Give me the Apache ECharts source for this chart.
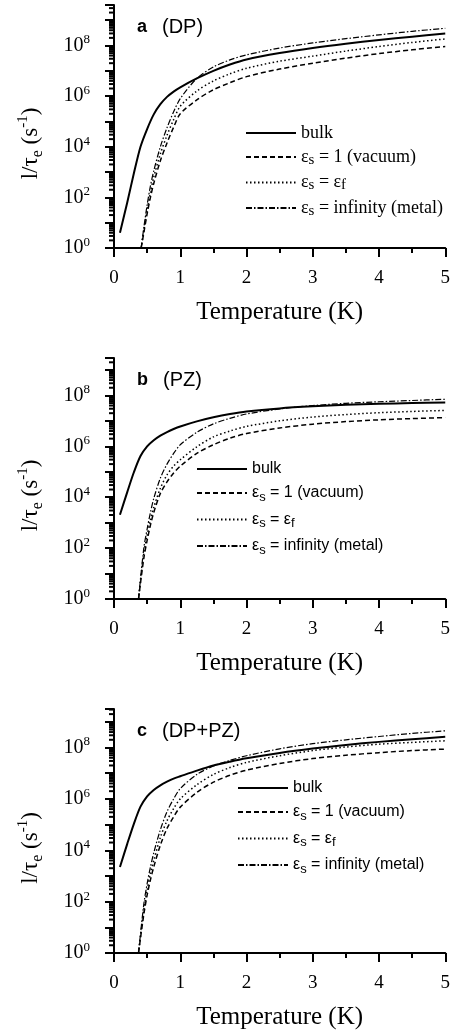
<!DOCTYPE html>
<html>
<head>
<meta charset="utf-8">
<script src="https://cdn.jsdelivr.net/npm/echarts@6/dist/echarts.min.js"></script>
<style>
  html, body { margin: 0; padding: 0; background: #fff; }
  #chart { width: 453px; height: 1032px; }
</style>
</head>
<body>
<div id="chart"></div>
<script>
// temperatures (K)
const tBulk = [0.09, 0.2, 0.3, 0.4, 0.5, 0.6, 0.7, 0.8, 0.9, 1, 1.25, 1.5, 1.75, 2, 2.5, 3, 3.5, 4, 4.5, 5];
const tFilmA = [0.41, 0.45, 0.5, 0.55, 0.6, 0.7, 0.8, 0.9, 1, 1.25, 1.5, 1.75, 2, 2.5, 3, 3.5, 4, 4.5, 5];
const tFilmBC = [0.37, 0.45, 0.5, 0.55, 0.6, 0.7, 0.8, 0.9, 1, 1.25, 1.5, 1.75, 2, 2.5, 3, 3.5, 4, 4.5, 5];

// log10(1/tau_e)
// a (DP)
const bulkA = [0.6, 1.8, 2.95, 4.0, 4.7, 5.28, 5.68, 5.97, 6.18, 6.35, 6.7, 7.0, 7.25, 7.45, 7.7, 7.9, 8.07, 8.22, 8.35, 8.47];
const vacA = [0, 0.6, 1.35, 2.0, 2.55, 3.45, 4.15, 4.77, 5.3, 5.85, 6.25, 6.53, 6.77, 7.07, 7.3, 7.5, 7.68, 7.83, 7.96];
const epsfA = [0, 0.7, 1.5, 2.2, 2.8, 3.72, 4.45, 5.07, 5.6, 6.2, 6.6, 6.88, 7.1, 7.38, 7.58, 7.78, 7.96, 8.12, 8.26];
const metalA = [0, 0.8, 1.7, 2.45, 3.05, 4.0, 4.75, 5.38, 5.9, 6.7, 7.15, 7.43, 7.63, 7.9, 8.1, 8.27, 8.42, 8.56, 8.68];
// b (PZ)
const bulkB = [3.31, 4.2, 4.98, 5.62, 6.0, 6.24, 6.42, 6.56, 6.68, 6.78, 6.98, 7.14, 7.27, 7.37, 7.49, 7.57, 7.63, 7.67, 7.7, 7.72];
const vacB = [0, 1.6, 2.3, 2.9, 3.4, 4.15, 4.6, 4.95, 5.22, 5.72, 6.06, 6.32, 6.5, 6.72, 6.87, 6.97, 7.04, 7.09, 7.13];
const epsfB = [0, 1.8, 2.5, 3.1, 3.6, 4.35, 4.88, 5.22, 5.47, 5.98, 6.37, 6.6, 6.78, 7.0, 7.15, 7.25, 7.32, 7.37, 7.41];
const metalB = [0, 2.0, 2.75, 3.4, 3.95, 4.75, 5.3, 5.72, 6.06, 6.55, 6.88, 7.1, 7.27, 7.47, 7.6, 7.69, 7.75, 7.8, 7.85];
// c (DP+PZ)
const bulkC = [3.35, 4.25, 5.03, 5.7, 6.1, 6.35, 6.53, 6.67, 6.79, 6.88, 7.1, 7.3, 7.45, 7.58, 7.79, 7.96, 8.1, 8.22, 8.32, 8.42];
const vacC = [0, 1.5, 2.25, 2.85, 3.35, 4.2, 4.85, 5.3, 5.68, 6.25, 6.65, 6.92, 7.12, 7.38, 7.57, 7.7, 7.8, 7.88, 7.94];
const epsfC = [0, 1.7, 2.45, 3.1, 3.6, 4.5, 5.15, 5.62, 6.0, 6.55, 6.95, 7.22, 7.42, 7.68, 7.88, 8.02, 8.13, 8.2, 8.26];
const metalC = [0, 1.9, 2.7, 3.35, 3.9, 4.8, 5.5, 6.0, 6.4, 6.95, 7.28, 7.5, 7.68, 7.95, 8.15, 8.3, 8.43, 8.55, 8.65];

const panelTags = ['a', 'b', 'c'];
const panelNames = ['(DP)', '(PZ)', '(DP+PZ)'];
const xTicks = [0, 1, 2, 3, 4, 5];

const serif = 'Liberation Serif';
const sans = 'Liberation Sans';

// layout of the three panels
const grids = [
  { left: 114, right: 5, top: 5, height: 243, yMax: 9.6 },
  { left: 114, right: 5, top: 358, height: 241, yMax: 9.47 },
  { left: 114, right: 5, top: 709, height: 244, yMax: 9.5 },
];
const legendPos = [
  { left: 240, top: 119, gap: 6, font: serif, size: 18 },
  { left: 191, top: 456, gap: 8, font: sans, size: 16 },
  { left: 232, top: 775, gap: 8, font: sans, size: 16 },
];

// minor ticks of a log10 axis, 2..9 x 10^n
function minorLogTicks(max) {
  const out = [];
  for (let n = 0; n < 10; n++) {
    for (let k = 2; k <= 9; k++) {
      const v = n + Math.log10(k);
      if (v < max) out.push([0, v]);
    }
  }
  return out;
}

const styles = {
  bulk: { type: 'solid', width: 2 },
  vac: { type: [5, 3], width: 1.5 },
  epsf: { type: [1.5, 2.5], width: 1.5 },
  metal: { type: [6, 2, 1.5, 2], width: 1.2 },
};
const legendText = {
  bulk: '{n|bulk}',
  vac: '{n|ε}{s|s}{n| = 1 (vacuum)}',
  epsf: '{n|ε}{s|s}{n| = ε}{s|f}',
  metal: '{n|ε}{s|s}{n| = infinity (metal)}',
};

const panelData = [
  { bulk: bulkA, vac: vacA, epsf: epsfA, metal: metalA, tFilm: tFilmA },
  { bulk: bulkB, vac: vacB, epsf: epsfB, metal: metalB, tFilm: tFilmBC },
  { bulk: bulkC, vac: vacC, epsf: epsfC, metal: metalC, tFilm: tFilmBC },
];

const series = [];
panelData.forEach((p, i) => {
  ['bulk', 'vac', 'epsf', 'metal'].forEach((key) => {
    const ts = key === 'bulk' ? tBulk : p.tFilm;
    series.push({
      name: key,
      type: 'line',
      xAxisIndex: i,
      yAxisIndex: i,
      data: ts.map((t, j) => [t, p[key][j]]),
      symbol: 'none',
      smooth: 0.3,
      lineStyle: { color: '#000', ...styles[key] },
      itemStyle: { color: '#000' },
      z: key === 'bulk' ? 3 : 2,
    });
  });
  series.push({
    type: 'custom',
    xAxisIndex: i,
    yAxisIndex: i,
    silent: true,
    clip: false,
    data: minorLogTicks(grids[i].yMax),
    renderItem: (params, api) => {
      const pt = api.coord([api.value(0), api.value(1)]);
      return {
        type: 'line',
        shape: { x1: pt[0] - 5, y1: pt[1], x2: pt[0], y2: pt[1] },
        style: { stroke: '#000', lineWidth: 2 },
      };
    },
  });
});

const option = {
  backgroundColor: '#fff',
  animation: false,
  title: grids.map((g, i) => ({
    text: `{b|${panelTags[i]}}   {n|${panelNames[i]}}`,
    left: 132,
    top: g.top + 7,
    textStyle: {
      rich: {
        b: { fontFamily: sans, fontWeight: 'bold', fontSize: 18, color: '#000' },
        n: { fontFamily: sans, fontWeight: 'normal', fontSize: 20, color: '#000' },
      },
    },
  })),
  legend: legendPos.map((l, i) => ({
    orient: 'vertical',
    left: l.left,
    top: l.top,
    itemWidth: 50,
    itemHeight: 14,
    itemGap: l.gap,
    data: ['bulk', 'vac', 'epsf', 'metal'],
    selectedMode: false,
    itemStyle: { opacity: 0 },
    formatter: (name) => legendText[name],
    textStyle: {
      fontFamily: l.font,
      fontSize: l.size,
      color: '#000',
      rich: {
        n: { fontFamily: l.font, fontSize: l.size, lineHeight: 21, color: '#000' },
        s: { fontFamily: l.font, fontSize: l.size - 3, verticalAlign: 'bottom', lineHeight: 10, color: '#000' },
      },
    },
  })),
  grid: grids.map((g) => ({ left: g.left, right: g.right, top: g.top, height: g.height })),
  xAxis: grids.map((g, i) => ({
    type: 'value',
    gridIndex: i,
    min: xTicks[0],
    max: xTicks[xTicks.length - 1],
    interval: 1,
    name: 'Temperature (K)',
    nameLocation: 'middle',
    nameGap: 52,
    nameTextStyle: { fontFamily: serif, fontSize: 25, color: '#000' },
    axisLine: { lineStyle: { color: '#000', width: 2 } },
    axisTick: { length: 9, lineStyle: { width: 2 } },
    minorTick: { show: true, splitNumber: 2, length: 5, lineStyle: { color: '#000', width: 2 } },
    axisLabel: { margin: 21, fontFamily: serif, fontSize: 19, color: '#000' },
    splitLine: { show: false },
  })),
  yAxis: grids.map((g, i) => ({
    type: 'value',
    gridIndex: i,
    min: 0,
    max: g.yMax,
    interval: 1,
    name: '{n|l/τ}{sb|e}{n| (s}{sp|-1}{n|)}',
    nameLocation: 'middle',
    nameGap: 68,
    nameTextStyle: {
      padding: [0, 34, 0, 0],
      rich: {
        n: { fontFamily: serif, fontSize: 23, lineHeight: 30, color: '#000' },
        sb: { fontFamily: serif, fontSize: 16, lineHeight: 14, verticalAlign: 'bottom', color: '#000' },
        sp: { fontFamily: serif, fontSize: 15, lineHeight: 14, verticalAlign: 'top', color: '#000' },
      },
    },
    axisLine: { lineStyle: { color: '#000', width: 2 } },
    axisTick: { length: 9, lineStyle: { width: 2 } },
    axisLabel: {
      margin: 24,
      formatter: (v) => (Number.isInteger(v) && v % 2 === 0 ? `{b|10}{p|${v}}` : ''),
      rich: {
        b: { fontFamily: serif, fontSize: 20, lineHeight: 24, color: '#000' },
        p: { fontFamily: serif, fontSize: 13, lineHeight: 12, verticalAlign: 'top', color: '#000' },
      },
    },
    splitLine: { show: false },
  })),
  series,
};

const chart = echarts.init(document.getElementById('chart'), null, { renderer: 'canvas' });
chart.setOption(option);
</script>
</body>
</html>
